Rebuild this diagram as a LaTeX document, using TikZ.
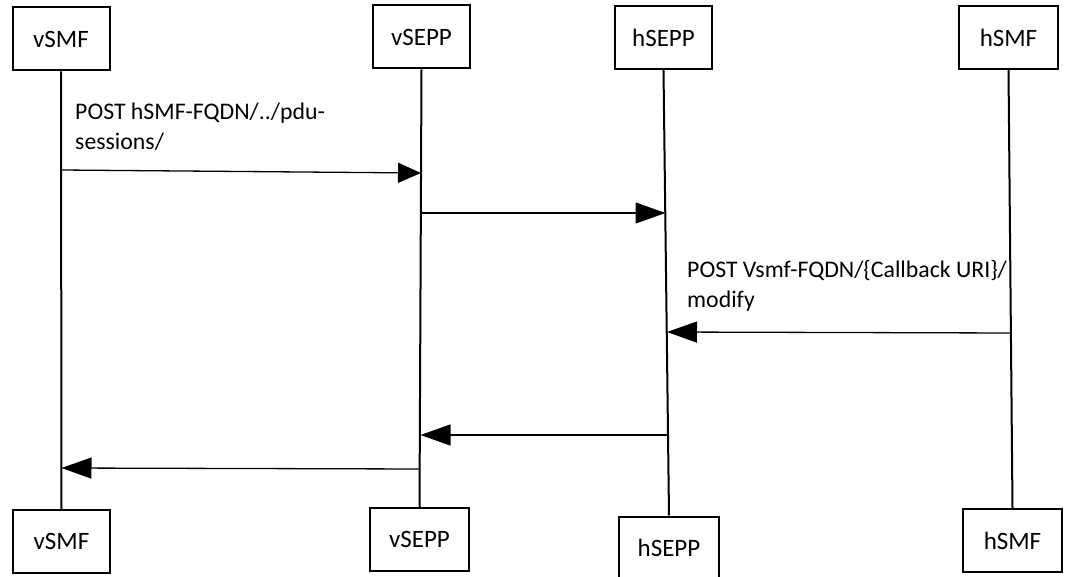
\documentclass[tikz,border=0pt]{standalone}
\usepackage{fontspec}
\setmainfont{Carlito}
\usetikzlibrary{arrows.meta,calc}
\begin{document}
\begin{tikzpicture}[x=1pt,y=-1pt,
  actor/.style={draw,line width=2pt,minimum width=97pt,minimum height=63pt,inner sep=0pt,font=\fontsize{25}{30}\selectfont},
  life/.style={line width=2pt},
  msg/.style={line width=1.3pt,-{Triangle[length=30pt,width=21pt]}},
  lbl/.style={anchor=base west,align=left,inner sep=0pt,font=\fontsize{23.8}{30}\selectfont}]
\clip (0,0) rectangle (1077,577);
\fill[white] (0,0) rectangle (1077,577);
% top actors
\node[actor] (vsmfT) at (61,39) {vSMF};
\node[actor] (vseppT) at (421.5,37) {vSEPP};
\node[actor] (hseppT) at (663.5,37.5) {hSEPP};
\node[actor,minimum width=99pt] (hsmfT) at (1008.5,37.5) {hSMF};
% bottom actors
\node[actor] (vsmfB) at (61.5,541.5) {vSMF};
\node[actor,minimum width=99pt] (vseppB) at (419.5,539.5) {vSEPP};
\node[actor,minimum width=100pt] (hseppB) at (669,548) {hSEPP};
\node[actor,minimum width=99pt] (hsmfB) at (1012.5,540.5) {hSMF};
% lifelines
\draw[life] (vsmfT.south) -- (vsmfB.north);
\draw[life] (vseppT.south) -- (vseppB.north);
\draw[life] (hseppT.south) -- (hseppB.north);
\draw[life] (hsmfT.south) -- (hsmfB.north);
% points on lifelines
\coordinate (a1) at (61,170);   \coordinate (b1) at (421,173);
\coordinate (b2) at (421,213);  \coordinate (c2) at (665.5,213);
\coordinate (d3) at (1010.8,333); \coordinate (c3) at (667,332);
\coordinate (c4) at (668,435);  \coordinate (b4) at (420.5,435);
\coordinate (b5) at (420.5,469); \coordinate (a5) at (61.5,468);
% messages
\draw[msg,-{Triangle[length=23pt,width=20pt]}] (a1) -- (b1);
\draw[msg] (b2) -- (c2);
\draw[msg] (d3) -- (c3);
\draw[msg] (c4) -- (b4);
\draw[msg] (b5) -- (a5);
% labels
\node[lbl] (l1) at (75,150) {POST hSMF-FQDN/../pdu-\\sessions/};
\node[lbl] (l3) at (687,308) {POST Vsmf-FQDN/\{Callback URI\}/\\modify};
\end{tikzpicture}
\end{document}
